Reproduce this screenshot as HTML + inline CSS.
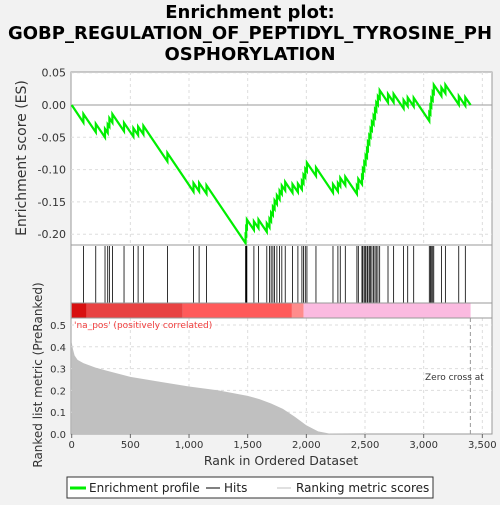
<!DOCTYPE html>
<html><head><meta charset="utf-8"><style>
body{margin:0;background:#f2f2f2;}
svg{font-family:"DejaVu Sans","Liberation Sans",sans-serif;}
</style></head><body>
<svg id="c" width="500" height="500" viewBox="0 0 500 500">
<text x="250" y="18" text-anchor="middle" font-size="18" font-weight="bold">Enrichment plot:</text>
<text x="250" y="39" text-anchor="middle" font-size="18" font-weight="bold">GOBP_REGULATION_OF_PEPTIDYL_TYROSINE_PH</text>
<text x="250" y="60" text-anchor="middle" font-size="18" font-weight="bold">OSPHORYLATION</text>
<rect x="71" y="72" width="421" height="362" fill="#fff" stroke="#999"/>
<g id="grid"></g>
<g id="es"></g>
<g id="hits"></g>
<g id="bar"></g>
<g id="metric"></g>
<line x1="71" y1="245" x2="492" y2="245" stroke="#999"/>
<line x1="71" y1="303" x2="492" y2="303" stroke="#999"/>
<line x1="71" y1="318" x2="492" y2="318" stroke="#999"/>
<text transform="translate(26,158) rotate(-90)" text-anchor="middle" font-size="14" fill="#333">Enrichment score (ES)</text>
<text transform="translate(42,375) rotate(-90)" text-anchor="middle" font-size="12" fill="#333">Ranked list metric (PreRanked)</text>
<text x="281" y="465" text-anchor="middle" font-size="12.5" fill="#333">Rank in Ordered Dataset</text>
<text x="74" y="328" font-size="9" fill="#f03c3c">'na_pos' (positively correlated)</text>
<text x="425" y="380" font-size="9" fill="#333">Zero cross at</text>
<g>
<rect x="67" y="477" width="366" height="21" fill="#fff" stroke="#333"/>
<line x1="70" y1="488" x2="86" y2="488" stroke="#00ee00" stroke-width="3"/>
<text x="89" y="492" font-size="12" fill="#222">Enrichment profile</text>
<line x1="206" y1="488" x2="220" y2="488" stroke="#000"/>
<text x="224" y="492" font-size="12" fill="#222">Hits</text>
<line x1="277" y1="488" x2="291" y2="488" stroke="#c0c0c0"/>
<text x="296" y="492" font-size="12" fill="#222">Ranking metric scores</text>
</g>
</svg>
<script>
const N = 3400;
const hitRanks = [100,205,284,307,321,347,446,526,566,611,816,1038,1086,1149,1482,1487,1493,1553,1592,1663,1686,1700,1715,1729,1749,1772,1791,1820,1882,1928,1962,1976,1991,2005,2082,2227,2269,2289,2332,2431,2443,2474,2482,2494,2505,2517,2525,2537,2548,2559,2573,2585,2596,2610,2625,2696,2744,2829,2864,2915,3048,3057,3065,3077,3086,3151,3185,3299,3355];
const metricRanks = [0,10,25,50,100,200,300,500,750,1000,1250,1500,1600,1700,1800,1900,2000,2100,2200,2500,3400];
const metricValues = [0.42,0.39,0.36,0.34,0.325,0.305,0.29,0.262,0.24,0.218,0.2,0.175,0.16,0.14,0.115,0.08,0.04,0.012,0.002,0,0];
const xTicks = [0,500,1000,1500,2000,2500,3000,3500];
const xTickLabels = ["0","500","1,000","1,500","2,000","2,500","3,000","3,500"];
const esTicks = [0.05,0,-0.05,-0.1,-0.15,-0.2];
const esTickLabels = ["0.05","0.00","-0.05","-0.10","-0.15","-0.20"];
const mTicks = [0,0.1,0.2,0.3,0.4,0.5];
const mTickLabels = ["0.0","0.1","0.2","0.3","0.4","0.5"];
const barStops = [0,128,947,1877,1977,3400];
const barColors = ["#d81010","#e84242","#ff5a5a","#ff8c8c","#fbbae0"];

const NS="http://www.w3.org/2000/svg";
const xs = r => 71.7 + r*(470.6-71.7)/3400;
const ys = v => 105 - v*646;
const ym = v => 434 - v*218;
function mk(tag, attrs, parent){const e=document.createElementNS(NS,tag);for(const k in attrs)e.setAttribute(k,attrs[k]);parent.appendChild(e);return e;}
const grid=document.getElementById('grid');
xTicks.forEach((t,i)=>{
  const x=xs(t);
  if(t>0){
    const g1=mk('line',{x1:x,x2:x,y1:72,y2:245,stroke:'#ddd','stroke-dasharray':'3,3'},grid);
    
    
    const g2=mk('line',{x1:x,x2:x,y1:318,y2:434,stroke:'#ddd','stroke-dasharray':'3,3'},grid);
    
    
  }
  const tk=mk('line',{x1:x,x2:x,y1:434,y2:438,stroke:'#666'},grid);
  
  
  const tl=mk('text',{x:x,y:448,'text-anchor':'middle','font-size':'10',fill:'#333'},grid);
  tl.textContent=xTickLabels[i];
  
  
});
esTicks.forEach((t,i)=>{
  const y=ys(t);
  const g=mk('line',{x1:71,x2:492,y1:y,y2:y,stroke:t===0?'#999':'#ddd','stroke-dasharray':t===0?'':'3,3'},grid);
  
  
  const tl=mk('text',{x:66,y:y+4,'text-anchor':'end','font-size':'11',fill:'#333'},grid);
  tl.textContent=esTickLabels[i];
  
  
});
mTicks.forEach((t,i)=>{
  const y=ym(t);
  if(t>0){const g=mk('line',{x1:71,x2:492,y1:y,y2:y,stroke:'#ddd','stroke-dasharray':'3,3'},grid);
  
  }
  const tl=mk('text',{x:66,y:y+4,'text-anchor':'end','font-size':'10',fill:'#333'},grid);
  tl.textContent=mTickLabels[i];
  
  
});
const bar=document.getElementById('bar');
for(let i=0;i<barColors.length;i++){
  const r=mk('rect',{x:xs(barStops[i]),y:303,width:xs(barStops[i+1])-xs(barStops[i]),height:15,fill:barColors[i]},bar);
  
  
}
const hg=document.getElementById('hits');
hitRanks.forEach(r=>{
  const l=mk('line',{x1:xs(r),x2:xs(r),y1:246,y2:303,stroke:'#000','stroke-width':0.8},hg);
  
  
});
const inc=1/hitRanks.length, dec=1/(N-hitRanks.length);
let pts=[[0,0]], es=0, prev=0;
hitRanks.forEach(r=>{
  es -= (r-prev)*dec; pts.push([r,es]);
  es += inc; pts.push([r,es]); prev=r+1;
});
es -= (N-prev)*dec; pts.push([N,es]);
const p=mk('polyline',{points:pts.map(q=>xs(q[0]).toFixed(1)+','+ys(q[1]*0.9).toFixed(1)).join(' '),fill:'none',stroke:'#00ee00','stroke-width':2.2},document.getElementById('es'));


let mp=metricRanks.map((r,i)=>xs(r).toFixed(1)+','+ym(metricValues[i]).toFixed(1));
mp.push(xs(N).toFixed(1)+','+ym(0)); mp.push(xs(0).toFixed(1)+','+ym(0));
const ma=mk('polygon',{points:mp.join(' '),fill:'#c0c0c0'},document.getElementById('metric'));


const zc=mk('line',{x1:xs(3398),x2:xs(3398),y1:318,y2:434,stroke:'#999','stroke-dasharray':'4,3'},document.getElementById('metric'));


</script>
</body></html>
